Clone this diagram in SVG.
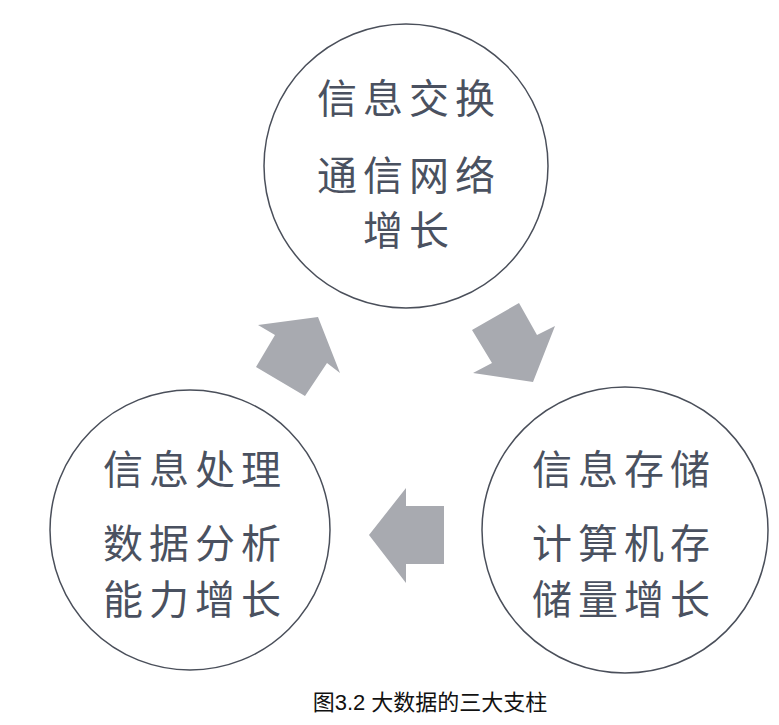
<svg xmlns="http://www.w3.org/2000/svg" width="779" height="725" viewBox="0 0 779 725">
<style>
.c{fill:#fff;stroke:#4a4f5a;stroke-width:1.5}
.t{font-family:"Noto Sans CJK SC",sans-serif;font-size:40px;fill:#4a5160;text-anchor:middle;letter-spacing:6px}
.a{fill:#a8aab0}
</style>
<rect width="779" height="725" fill="#fff"/>
<g id="top"><circle class="c" cx="406" cy="166" r="142"/>
<text class="t" x="409" y="113">信息交换</text><text class="t" x="409" y="190">通信网络</text><text class="t" x="409" y="245">增长</text></g>
<g id="left"><circle class="c" cx="190" cy="530" r="140"/>
<text class="t" x="195" y="484">信息处理</text><text class="t" x="195" y="558">数据分析</text><text class="t" x="195" y="614">能力增长</text></g>
<g id="right"><circle class="c" cx="625" cy="530" r="143"/>
<text class="t" x="624" y="484">信息存储</text><text class="t" x="624" y="558">计算机存</text><text class="t" x="624" y="614">储量增长</text></g>
<g id="connectors">
<polygon class="a" points="258,325 318,317 340,373 327,363 305,396 256,367 275,335"/>
<polygon class="a" points="472,330 519,303 537,335 555,326 533,382 473,373 492,363"/>
<polygon class="a" points="369,535 406,488 406,506 444,506 444,564 406,564 406,583"/>
</g>
<text x="430" y="710" font-family="'Liberation Sans','Noto Sans CJK SC',sans-serif" font-size="22" text-anchor="middle" fill="#111">图3.2 大数据的三大支柱</text>
</svg>
